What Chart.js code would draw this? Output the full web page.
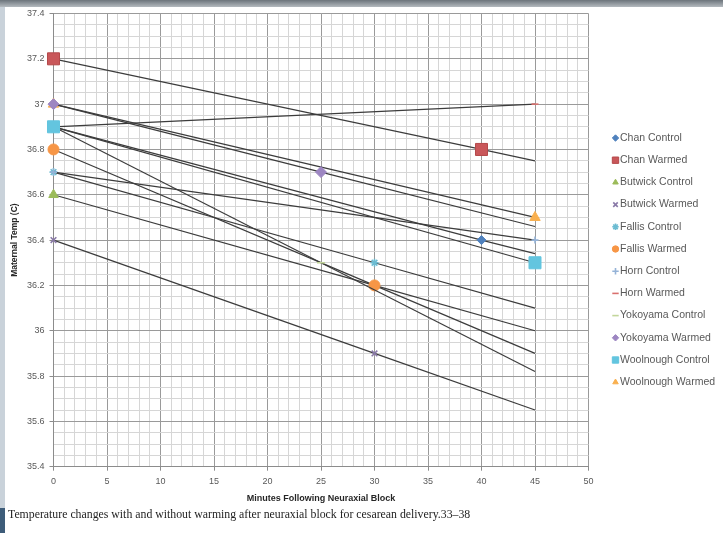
<!DOCTYPE html>
<html>
<head>
<meta charset="utf-8">
<script src="https://cdn.jsdelivr.net/npm/chart.js@4/dist/chart.umd.min.js"></script>
<style>
    body { margin: 0; background: #fff; }
    #page { position: relative; width: 723px; height: 533px; overflow: hidden; background: #fff; }
    #topbar { position: absolute; left: 0; top: 0; width: 723px; height: 7px; background: linear-gradient(#6c747b, #b4babf); }
    #leftbar { position: absolute; left: 0; top: 7px; width: 5px; height: 501px; background: #c9d2da; }
    #leftfoot { position: absolute; left: 0; top: 508px; width: 5px; height: 25px; background: #3d5c79; }
    #caption { position: absolute; left: 8px; top: 507px; font: 11.8px "Liberation Serif", serif; color: #1e1e1e; white-space: nowrap; }
    canvas { position: absolute; left: 0; top: 0; }
</style>
</head>
<body>
<div id="page">
    <canvas id="tempChart" width="723" height="533"></canvas>
    <div id="topbar"></div>
    <div id="leftbar"></div>
    <div id="leftfoot"></div>
    <div id="caption">Temperature changes with and without warming after neuraxial block for cesarean delivery.33–38</div>
</div>
<script>
// series values (minutes, temp); the last x=45 point is where the line ends
const seriesNames = ['Chan Control', 'Chan Warmed', 'Butwick Control', 'Butwick Warmed', 'Fallis Control', 'Fallis Warmed',
    'Horn Control', 'Horn Warmed', 'Yokoyama Control', 'Yokoyama Warmed', 'Woolnough Control', 'Woolnough Warmed'];

const chanControlMin = [0, 40, 45];
const chanControlTemp = [36.9, 36.4, 36.34];
const chanWarmedMin = [0, 40, 45];
const chanWarmedTemp = [37.2, 36.8, 36.75];
const butwickControlMin = [0, 30, 45];
const butwickControlTemp = [36.6, 36.2, 36.0];
const butwickWarmedMin = [0, 30, 45];
const butwickWarmedTemp = [36.4, 35.9, 35.65];
const fallisControlMin = [0, 30, 45];
const fallisControlTemp = [36.7, 36.3, 36.1];
const fallisWarmedMin = [0, 30, 45];
const fallisWarmedTemp = [36.8, 36.2, 35.9];
const hornControlMin = [0, 45];
const hornControlTemp = [36.7, 36.4];
const hornWarmedMin = [0, 45];
const hornWarmedTemp = [36.9, 37.0];
const yokoyamaControlMin = [0, 25, 45];
const yokoyamaControlTemp = [36.9, 36.3, 35.82];
const yokoyamaWarmedMin = [0, 25, 45];
const yokoyamaWarmedTemp = [37.0, 36.7, 36.46];
const woolnoughControlMin = [0, 45];
const woolnoughControlTemp = [36.9, 36.3];
const woolnoughWarmedMin = [0, 45];
const woolnoughWarmedTemp = [37.0, 36.5];

const xTickStep = 1;
const yTickStep = 0.05;

function isMajorX(v) { return Math.abs(v % 5) < 1e-6; }
function isMajorY(v) { return Math.abs(v / 0.2 - Math.round(v / 0.2)) < 1e-6; }

// marked = how many leading points carry a marker
function makeSeries(idx, mins, temps, marked, color, style, radius, border) {
    return {
        label: seriesNames[idx],
        data: mins.map((m, i) => ({ x: m, y: temps[i] })),
        showLine: true,
        clip: false,
        order: -idx,  // later series drawn on top, like excel
        borderColor: '#3c3c3c',
        borderWidth: 1.2,
        pointStyle: style,
        pointBackgroundColor: color,
        pointBorderColor: border || color,
        pointBorderWidth: (style === 'line' || style === 'cross' || style === 'crossRot' || style === 'star') ? 1.6 : 1,
        pointRadius: mins.map((m, i) => i < marked ? radius : 0),
        pointHoverRadius: 0
    };
}

const datasets = [
    makeSeries(0, chanControlMin, chanControlTemp, 2, '#4f81bd', 'rectRot', 4.5),
    makeSeries(1, chanWarmedMin, chanWarmedTemp, 2, '#c9575a', 'rect', 8.5, '#b5494a'),
    makeSeries(2, butwickControlMin, butwickControlTemp, 2, '#9bbb59', 'triangle', 5.5),
    makeSeries(3, butwickWarmedMin, butwickWarmedTemp, 2, '#8a7aa8', 'crossRot', 4),
    makeSeries(4, fallisControlMin, fallisControlTemp, 2, '#6cbcd2', 'star', 4),
    makeSeries(5, fallisWarmedMin, fallisWarmedTemp, 2, '#f79646', 'circle', 5.5),
    makeSeries(6, hornControlMin, hornControlTemp, 2, '#95b3d7', 'cross', 3.5),
    makeSeries(7, hornWarmedMin, hornWarmedTemp, 2, '#d9706e', 'line', 3.5),
    makeSeries(8, yokoyamaControlMin, yokoyamaControlTemp, 2, '#c3d69b', 'line', 4),
    makeSeries(9, yokoyamaWarmedMin, yokoyamaWarmedTemp, 2, '#9d86c2', 'rectRot', 5.5),
    makeSeries(10, woolnoughControlMin, woolnoughControlTemp, 2, '#63c5df', 'rect', 8.5),
    makeSeries(11, woolnoughWarmedMin, woolnoughWarmedTemp, 2, '#f9b04f', 'triangle', 6)
];
// keep the purple diamond on top at 37.0 like the original
datasets[9].order = -20;

const sideLegend = {
    id: 'sideLegend',
    afterDraw(chart) {
        const ctx = chart.ctx;
        chart.data.datasets.forEach((ds, i) => {
            const y = 138 + i * 22.2;
            ctx.save();
            ctx.fillStyle = ds.pointBackgroundColor;
            ctx.strokeStyle = ds.pointBorderColor;
            ctx.lineWidth = ds.pointBorderWidth;
            const r = (ds.pointStyle === 'rect') ? 4.5 : 3.2;
            Chart.helpers.drawPoint(ctx, { pointStyle: ds.pointStyle, radius: r, borderWidth: ds.pointBorderWidth, rotation: 0 }, 615.5, y);
            ctx.fillStyle = '#595959';
            ctx.font = '10.5px "Liberation Sans", sans-serif';
            ctx.textBaseline = 'middle';
            ctx.textAlign = 'left';
            ctx.fillText(ds.label, 620, y);
            ctx.restore();
        });
    }
};

const ctx = document.getElementById('tempChart').getContext('2d');
const tempChart = new Chart(ctx, {
    type: 'scatter',
    data: { datasets: datasets },
    options: {
        responsive: false,
        animation: false,
        layout: { padding: { left: 4, right: 134.5, top: 13.5, bottom: 26 } },
        plugins: {
            legend: { display: false },
            tooltip: { enabled: false }
        },
        scales: {
            x: {
                type: 'linear',
                min: 0,
                max: 50,
                afterFit: function (scale) { scale.height = 40.3; },
                ticks: {
                    stepSize: xTickStep,
                    autoSkip: false,
                    maxRotation: 0,
                    padding: 5,
                    color: '#595959',
                    font: { family: 'Liberation Sans', size: 9 },
                    callback: function (value) { return isMajorX(value) ? value : ''; }
                },
                grid: {
                    color: c => (c.tick && isMajorX(c.tick.value)) ? '#9a9a9a' : '#d6d6d6',
                    tickColor: c => (c.tick && isMajorX(c.tick.value)) ? '#8c8c8c' : 'rgba(0,0,0,0)',
                    tickLength: 4,
                    lineWidth: 1
                },
                border: { color: '#8c8c8c' },
                title: {
                    display: true,
                    text: 'Minutes Following Neuraxial Block',
                    color: '#262626',
                    font: { family: 'Liberation Sans', size: 9, weight: 'bold' },
                    padding: { top: 2, bottom: 3.5 }
                }
            },
            y: {
                min: 35.4,
                max: 37.4,
                afterFit: function (scale) { scale.width = 49.5; },
                ticks: {
                    stepSize: yTickStep,
                    autoSkip: false,
                    padding: 5,
                    color: '#595959',
                    font: { family: 'Liberation Sans', size: 9 },
                    callback: function (value) {
                        return isMajorY(value) ? String(Number(value.toFixed(1))) : '';
                    }
                },
                grid: {
                    color: c => (c.tick && isMajorY(c.tick.value)) ? '#9a9a9a' : '#d6d6d6',
                    tickColor: c => (c.tick && isMajorY(c.tick.value)) ? '#8c8c8c' : 'rgba(0,0,0,0)',
                    tickLength: 4,
                    lineWidth: 1
                },
                border: { color: '#8c8c8c' },
                title: {
                    display: true,
                    text: 'Maternal Temp (C)',
                    color: '#262626',
                    font: { family: 'Liberation Sans', size: 8.5, weight: 'bold' },
                    padding: { top: 5.5, bottom: 0 }
                }
            }
        }
    },
    plugins: [sideLegend]
});
</script>
</body>
</html>
